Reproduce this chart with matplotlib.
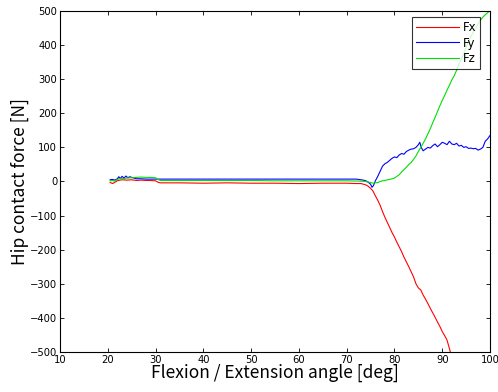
import matplotlib
matplotlib.use('Agg')
import matplotlib.pyplot as plt

# angle [deg] and force [N]
fx_x = [20.5, 21.0, 21.5, 22.0, 22.5, 23.0, 24.0, 25.0, 26.0, 27.0,
        28.0, 29.0, 30.0, 30.5, 31.0, 35, 40, 45, 50, 55,
        60, 65, 70, 72, 73, 74, 74.5, 75, 75.5, 76,
        76.5, 77, 77.5, 78, 78.5, 79, 79.5, 80, 80.5, 81,
        81.5, 82, 82.5, 83, 83.5, 84, 84.5, 85, 85.5, 86,
        86.5, 87, 87.5, 88, 88.5, 89, 89.5, 90, 90.5, 91,
        91.5, 92]
fx = [-3, -6, -2, 2, 4, 5, 4, 5, 3, 4,
      3, 3, 2, -2, -4, -4, -5, -4, -5, -5,
      -6, -5, -5, -6, -6, -10, -14, -20, -28, -42,
      -55, -70, -88, -105, -120, -135, -150, -163, -178, -192,
      -206, -222, -236, -250, -265, -280, -300, -312, -318, -333,
      -345, -358, -372, -385, -398, -412, -425, -440, -452, -465,
      -490, -515]

fy_x = [20.5, 21.0, 21.5, 22.0, 22.3, 22.6, 23.0, 23.4, 23.8, 24.2,
        24.6, 25.0, 25.5, 26.0, 27, 28, 30, 35, 40, 45,
        50, 55, 60, 65, 70, 72, 73, 73.5, 74, 74.5,
        75, 75.3, 75.6, 76, 76.5, 77, 77.5, 78, 78.5, 79,
        79.5, 80, 80.5, 81, 81.5, 82, 82.5, 83, 83.5, 84,
        84.5, 85, 85.3, 85.6, 86, 86.5, 87, 87.5, 88, 88.5,
        89, 89.5, 90, 90.5, 91, 91.5, 92, 92.5, 93, 93.5,
        94, 94.5, 95, 95.5, 96, 96.5, 97, 97.5, 98, 98.5,
        99, 99.5, 100]
fy = [5, 6, 4, 8, 14, 9, 15, 10, 16, 11,
      14, 12, 10, 8, 8, 7, 7, 7, 7, 7,
      7, 7, 7, 7, 7, 7, 5, 4, 2, -2,
      -8, -17, -12, 2, 15, 30, 45, 52, 56, 62,
      68, 72, 70, 78, 82, 80, 88, 92, 95, 96,
      100, 108, 115, 100, 90, 95, 100, 98, 105, 110,
      102, 108, 115, 112, 108, 118, 110, 108, 112, 104,
      106, 100, 102, 97, 98, 96, 97, 92, 95, 100,
      118, 125, 135]

fz_x = [20.5, 21, 21.5, 22, 22.5, 23, 24, 25, 26, 27,
        28, 29, 30, 30.5, 31, 35, 40, 45, 50, 55,
        60, 65, 70, 73, 74, 75, 75.5, 76, 76.5, 77,
        77.5, 78, 78.5, 79, 79.5, 80, 80.5, 81, 81.5, 82,
        82.5, 83, 83.5, 84, 84.5, 85, 85.5, 86, 86.5, 87,
        87.5, 88, 88.5, 89, 89.5, 90, 90.5, 91, 91.5, 92,
        92.5, 93, 93.5, 94, 94.5, 95, 95.5, 96, 96.5, 97,
        97.5, 98, 98.5, 99, 99.5, 100]
fz = [2, 3, 1, 6, 9, 8, 10, 11, 12, 13,
      12, 12, 11, 6, 3, 3, 3, 3, 3, 2,
      2, 2, 2, 1, 0, -3, -5, -4, -3, 0,
      2, 3, 5, 6, 8, 10, 15, 20, 28, 35,
      42, 50, 56, 65, 75, 88, 100, 112, 125, 140,
      155, 172, 188, 205, 222, 238, 252, 268, 282, 298,
      310, 326, 345, 360, 375, 394, 410, 425, 438, 450,
      462, 473, 482, 489, 495, 502]

fig = plt.figure(figsize=(4.98, 3.92), dpi=100)
ax = fig.add_axes([0.1205, 0.102, 0.8635, 0.870])

ax.plot(fx_x, fx, color='red', lw=0.8, label='Fx')
ax.plot(fy_x, fy, color='blue', lw=0.8, label='Fy')
ax.plot(fz_x, fz, color='#00e000', lw=0.8, label='Fz')

ax.set_xlim(10, 100)
ax.set_ylim(-500, 500)
ax.set_xticks(range(10, 101, 10))
ax.set_yticks(range(-500, 501, 100))
ax.tick_params(direction='in', top=True, right=True, labelsize=7.2, length=3, width=0.6, pad=2)
for s in ax.spines.values():
    s.set_linewidth(0.8)

lab_font = ['Noto Sans CJK JP', 'DejaVu Sans']
ax.set_xlabel('Flexion / Extension angle [deg]', family=lab_font, fontsize=12.5, labelpad=-1)
ax.set_ylabel('Hip contact force [N]', family=lab_font, fontsize=12.5, labelpad=1)

leg = ax.legend(loc='upper right', bbox_to_anchor=(0.977, 0.982), borderaxespad=0,
                fontsize=8.5, handlelength=3.6, frameon=True, fancybox=False,
                edgecolor='black', labelspacing=0.2, handletextpad=0.3, borderpad=0.35)
leg.get_frame().set_linewidth(0.8)

fig.savefig('out.png', dpi=100)
